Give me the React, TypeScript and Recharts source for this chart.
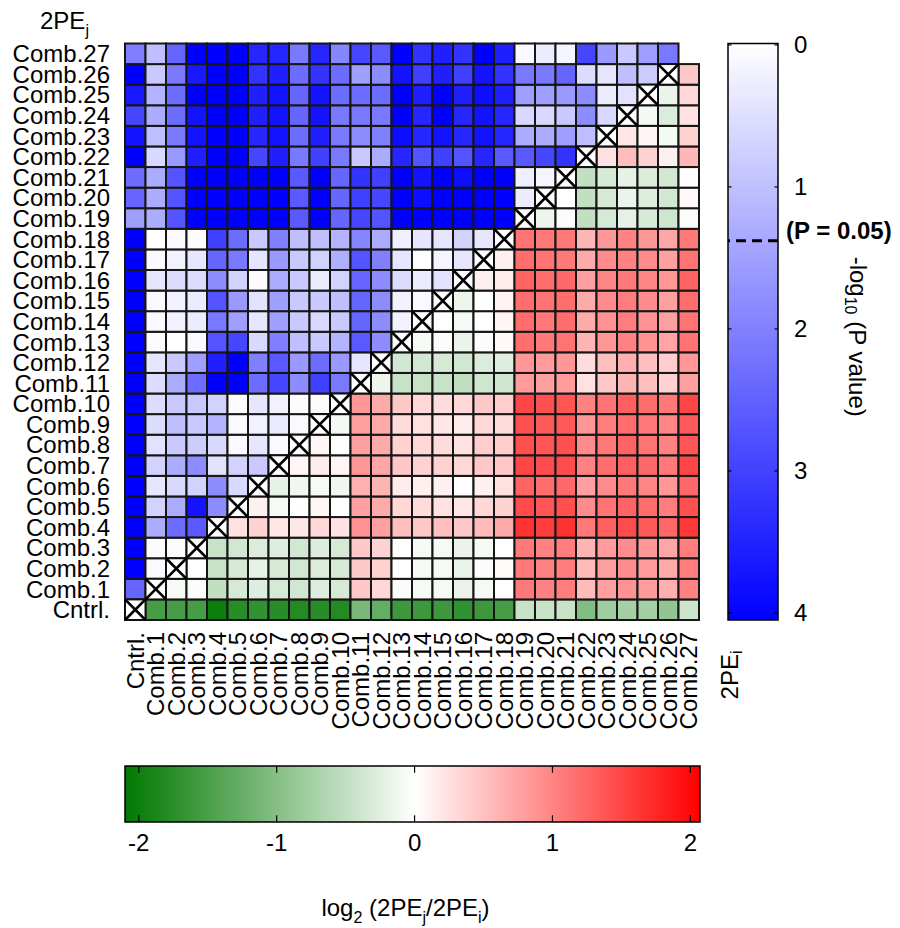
import React from 'react';
import {
  ScatterChart,
  Scatter,
  ComposedChart,
  XAxis,
  YAxis,
  ReferenceArea,
  ReferenceLine,
} from 'recharts';

const FONT = '"Liberation Sans", Arial, Helvetica, sans-serif';

const combLabels = [
  'Cntrl.', 'Comb.1', 'Comb.2', 'Comb.3', 'Comb.4', 'Comb.5', 'Comb.6', 'Comb.7', 'Comb.8', 'Comb.9',
  'Comb.10', 'Comb.11', 'Comb.12', 'Comb.13', 'Comb.14', 'Comb.15', 'Comb.16', 'Comb.17', 'Comb.18',
  'Comb.19', 'Comb.20', 'Comb.21', 'Comb.22', 'Comb.23', 'Comb.24', 'Comb.25', 'Comb.26', 'Comb.27',
];

// one row per 2PEj (Cntrl. at bottom). left of diagonal: -log10(P), right of diagonal: log2(2PEj/2PEi), null = diagonal
const rowValues: (number | null)[][] = [
  [null, -1.52, -1.52, -1.52, -2.0, -1.77, -1.7, -1.77, -1.8, -1.77, -1.8, -1.1, -1.28, -1.6, -1.6, -1.6, -1.7, -1.6, -1.52, -0.45, -0.45, -0.45, -1.03, -0.78, -0.74, -0.74, -0.9, -0.41],
  [2.4, null, -0.08, -0.03, -0.5, -0.35, -0.27, -0.35, -0.37, -0.28, -0.35, 0.45, 0.33, -0.05, -0.08, -0.08, -0.17, -0.08, 0, 1.1, 1.03, 1.07, 0.57, 0.78, 0.9, 0.82, 0.66, 1.03],
  [4, 0.1, null, 0, -0.45, -0.35, -0.2, -0.35, -0.37, -0.28, -0.35, 0.45, 0.37, 0, -0.08, -0.08, -0.17, -0.03, 0.03, 1.1, 1.03, 1.07, 0.57, 0.78, 0.95, 0.82, 0.7, 1.07],
  [4, 0.05, 0.05, null, -0.45, -0.37, -0.3, -0.27, -0.37, -0.28, -0.35, 0.45, 0.37, 0, -0.08, -0.08, -0.17, -0.08, 0, 1.1, 1.03, 1.07, 0.62, 0.82, 0.95, 0.86, 0.74, 1.07],
  [4, 1.3, 2.3, 2.6, null, 0.25, 0.37, 0.2, 0.2, 0.33, 0.25, 0.9, 0.78, 0.53, 0.45, 0.53, 0.45, 0.57, 0.7, 1.69, 1.6, 1.69, 1.1, 1.32, 1.48, 1.36, 1.24, 1.65],
  [4, 0.7, 1.3, 3.7, 1.8, null, 0.12, -0.08, -0.02, 0.08, 0, 0.78, 0.7, 0.33, 0.29, 0.25, 0.2, 0.33, 0.37, 1.48, 1.4, 1.44, 0.95, 1.15, 1.28, 1.2, 1.07, 1.44],
  [4, 0.4, 0.6, 0.7, 1.8, 0.6, null, -0.2, -0.12, -0.08, -0.12, 0.66, 0.62, 0.16, 0.12, 0.12, 0, 0.12, 0.25, 1.28, 1.2, 1.24, 0.78, 0.95, 1.1, 1.0, 0.86, 1.24],
  [4, 0.7, 1.3, 1.8, 0.45, 0.7, 0.85, null, 0.08, 0.16, 0.08, 0.86, 0.74, 0.45, 0.37, 0.37, 0.33, 0.45, 0.45, 1.52, 1.48, 1.48, 1.03, 1.2, 1.32, 1.24, 1.1, 1.52],
  [4, 0.45, 0.85, 0.8, 0.6, 0.1, 0.4, 0.1, null, 0.08, 0.02, 0.78, 0.7, 0.37, 0.33, 0.29, 0.25, 0.41, 0.41, 1.44, 1.4, 1.44, 0.95, 1.1, 1.28, 1.15, 1.03, 1.4],
  [4, 0.55, 1.0, 0.85, 1.2, 0.1, 0.2, 0.35, 0.1, null, -0.1, 0.78, 0.7, 0.29, 0.25, 0.2, 0.16, 0.33, 0.29, 1.44, 1.36, 1.36, 0.86, 1.07, 1.2, 1.1, 1.0, 1.36],
  [4, 0.55, 0.85, 0.85, 0.7, 0.05, 0.4, 0.2, 0.05, 0.05, null, 0.86, 0.7, 0.45, 0.33, 0.29, 0.33, 0.45, 0.41, 1.52, 1.44, 1.4, 1.03, 1.15, 1.32, 1.2, 1.1, 1.52],
  [4, 0.55, 1.3, 2.3, 4, 4, 2.3, 2.9, 1.8, 3.0, 2.1, null, -0.15, -0.45, -0.45, -0.45, -0.52, -0.4, -0.4, 0.82, 0.78, 0.82, 0.25, 0.45, 0.62, 0.53, 0.37, 0.78],
  [4, 0.4, 0.85, 1.5, 3.5, 4, 2.0, 2.6, 1.6, 2.3, 1.6, 0.4, null, -0.37, -0.37, -0.35, -0.37, -0.3, -0.27, 0.86, 0.82, 0.86, 0.29, 0.53, 0.66, 0.53, 0.41, 0.86],
  [4, 0.05, 0, 0.1, 2.7, 2.9, 0.6, 2.0, 1.0, 0.85, 1.2, 2.6, 1.8, null, -0.08, -0.03, -0.17, -0.03, 0.05, 1.2, 1.1, 1.15, 0.62, 0.86, 1.03, 0.9, 0.74, 1.15],
  [4, 0.1, 0.2, 0.3, 2.1, 1.5, 0.4, 1.5, 0.85, 0.6, 0.85, 2.4, 1.8, 0.2, null, 0, -0.08, 0, 0.08, 1.2, 1.1, 1.2, 0.7, 0.9, 1.07, 0.9, 0.78, 1.15],
  [4, 0.1, 0.2, 0.3, 2.7, 1.6, 0.45, 1.5, 0.85, 0.85, 1.0, 2.4, 1.8, 0.2, 0.1, null, -0.15, 0, 0.1, 1.2, 1.15, 1.2, 0.7, 0.95, 1.07, 0.95, 0.78, 1.2],
  [4, 0.4, 0.55, 0.55, 1.8, 0.7, 0.05, 1.3, 0.85, 0.3, 0.7, 2.4, 1.8, 0.55, 0.3, 0.45, null, 0.12, 0.16, 1.28, 1.2, 1.24, 0.78, 1.0, 1.1, 1.0, 0.86, 1.28],
  [4, 0.1, 0.2, 0.4, 2.4, 2.1, 0.4, 1.6, 0.85, 0.7, 1.25, 2.7, 2.0, 0.4, 0, 0.15, 0.4, null, 0.12, 1.2, 1.15, 1.1, 0.7, 0.95, 1.03, 0.95, 0.78, 1.15],
  [4, 0, 0.1, 0.05, 3.0, 2.3, 0.85, 2.0, 1.0, 1.0, 1.2, 1.9, 1.3, 0.25, 0.4, 0.4, 0.7, 0.4, null, 1.15, 1.1, 1.1, 0.6, 0.84, 1.03, 0.86, 0.74, 1.1],
  [1.5, 1.3, 2.7, 4, 4, 4, 4, 4, 2.6, 4, 2.4, 2.9, 2.7, 4, 4, 4, 4, 4, 4, null, -0.15, -0.03, -0.5, -0.35, -0.22, -0.33, -0.4, -0.03],
  [2.4, 1.3, 2.7, 4, 4, 4, 4, 4, 2.6, 4, 2.4, 3.0, 2.9, 4, 3.8, 4, 4, 4, 4, 0.3, null, 0, -0.5, -0.35, -0.17, -0.27, -0.37, 0.05],
  [2.3, 1.3, 2.7, 4, 4, 4, 4, 4, 2.6, 4, 2.4, 3.2, 3.0, 4, 3.7, 4, 3.8, 4, 4, 0.25, 0.15, null, -0.5, -0.33, -0.2, -0.3, -0.37, 0.02],
  [4, 0.6, 1.6, 3.5, 4, 4, 2.9, 3.5, 2.1, 3.0, 2.1, 0.85, 1.3, 3.4, 2.7, 3.0, 2.7, 3.4, 2.6, 2.6, 2.9, 3.2, null, 0.25, 0.55, 0.37, 0.12, 0.6],
  [3.7, 1.0, 2.1, 3.7, 4, 4, 3.4, 3.7, 2.3, 3.5, 2.1, 1.8, 2.0, 3.8, 3.4, 3.7, 3.4, 3.7, 3.4, 1.3, 1.3, 1.5, 1.0, null, 0.2, 0.08, -0.1, 0.37],
  [2.9, 1.3, 2.3, 3.7, 4, 4, 3.5, 3.7, 2.4, 3.7, 2.1, 2.1, 2.1, 4, 3.4, 4, 3.4, 3.7, 3.4, 0.6, 0.6, 0.85, 1.8, 0.6, null, -0.1, -0.3, 0.25],
  [3.6, 1.2, 2.3, 4, 4, 4, 3.5, 3.7, 2.4, 3.7, 2.3, 2.3, 2.3, 4, 3.5, 4, 3.5, 3.8, 3.5, 1.5, 1.5, 1.6, 1.8, 0.3, 0.45, null, -0.17, 0.33],
  [4, 0.85, 2.1, 3.6, 4, 4, 3.2, 3.5, 2.3, 3.2, 2.3, 1.5, 1.8, 3.7, 3.0, 3.5, 3.0, 3.7, 3.2, 2.1, 2.1, 2.4, 0.55, 0.4, 1.0, 0.8, null, 0.45],
  [2.0, 1.0, 2.4, 4, 4, 4, 3.4, 3.4, 2.1, 3.4, 1.9, 2.9, 2.6, 4, 3.2, 3.5, 3.2, 4, 3.5, 0.1, 0.3, 0.15, 2.9, 1.6, 0.85, 1.5, 2.1],
];

const pTicks = [0, 1, 2, 3, 4];
const ratioTicks = [-2, -1, 0, 1, 2];
const pThreshold = 1.38; // dashed line, (P = 0.05)

const indexTicks = combLabels.map((_, i) => i);

const cells = rowValues.flatMap((row, r) =>
  row.map((v, c) => ({ r, c, v, kind: c === r ? 'diag' : c < r ? 'p' : 'ratio' }))
);
const colorCells = cells.filter((d) => d.kind !== 'diag');
const diagCells = cells.filter((d) => d.kind === 'diag');

const blueColor = (v: number) => {
  const k = Math.round(255 * (1 - Math.min(v, 4) / 4));
  return `rgb(${k},${k},255)`;
};

const ratioColor = (v: number) => {
  const t = Math.min(Math.abs(v) / 2.1, 1);
  const k = Math.round(255 * (1 - t));
  if (v >= 0) return `rgb(255,${k},${k})`;
  return `rgb(${k},${Math.round(255 - 135 * t)},${k})`;
};

const CELL_W = 574 / 28;
const CELL_H = 576.5 / 28;

const HeatCell = (props: any) => {
  const { cx, cy, payload } = props;
  const x = cx - CELL_W / 2;
  const y = cy - CELL_H / 2;
  if (payload.kind === 'diag') {
    return (
      <g>
        <rect x={x} y={y} width={CELL_W} height={CELL_H} fill="#fff" stroke="#111" strokeWidth={2} />
        <line x1={x} y1={y} x2={x + CELL_W} y2={y + CELL_H} stroke="#000" strokeWidth={2.6} />
        <line x1={x + CELL_W} y1={y} x2={x} y2={y + CELL_H} stroke="#000" strokeWidth={2.6} />
      </g>
    );
  }
  const fill = payload.kind === 'p' ? blueColor(payload.v) : ratioColor(payload.v);
  return <rect x={x} y={y} width={CELL_W} height={CELL_H} fill={fill} stroke="#161616" strokeWidth={2} />;
};

const XTick = (props: any) => {
  const { x, y, payload } = props;
  return (
    <text
      x={x}
      y={y}
      transform={`rotate(-90 ${x} ${y})`}
      textAnchor="end"
      dominantBaseline="central"
      fontSize={24}
      fontFamily={FONT}
      fill="#000"
    >
      {combLabels[payload.value]}
    </text>
  );
};

const YTick = (props: any) => {
  const { x, y, payload } = props;
  return (
    <text x={x} y={y} textAnchor="end" dominantBaseline="central" fontSize={24} fontFamily={FONT} fill="#000">
      {combLabels[payload.value]}
    </text>
  );
};

const renderJName = (props: any) => {
  const vb = props.viewBox || { x: 5, y: 43.5 };
  return (
    <text x={vb.x + 35} y={vb.y - 15} fontSize={24} fontFamily={FONT} fill="#000">
      2PE
      <tspan dy={7} fontSize={16}>j</tspan>
    </text>
  );
};

const renderIName = (props: any) => {
  const vb = props.viewBox || { x: 125, y: 620, width: 574 };
  const cx = vb.x + vb.width + 30;
  const cy = vb.y + 55;
  return (
    <text
      x={cx}
      y={cy}
      transform={`rotate(-90 ${cx} ${cy})`}
      textAnchor="middle"
      dominantBaseline="central"
      fontSize={24}
      fontFamily={FONT}
      fill="#000"
    >
      2PE
      <tspan dy={7} fontSize={16}>i</tspan>
    </text>
  );
};

const renderPTitle = (props: any) => {
  const vb = props.viewBox || { x: 778, y: 43.5, height: 576.5 };
  const cx = vb.x + 80;
  const cy = vb.y + vb.height / 2 + 5;
  return (
    <text
      x={cx}
      y={cy}
      transform={`rotate(90 ${cx} ${cy})`}
      textAnchor="middle"
      dominantBaseline="central"
      fontSize={24}
      fontFamily={FONT}
      fill="#000"
    >
      -log
      <tspan dy={7} fontSize={16}>10</tspan>
      <tspan dy={-7}> (P value)</tspan>
    </text>
  );
};

const renderThresholdLabel = (props: any) => {
  const vb = props.viewBox || { x: 728, y: 241, width: 50 };
  return (
    <text
      x={vb.x + vb.width + 8}
      y={vb.y - 10}
      dominantBaseline="central"
      fontSize={24}
      fontWeight="bold"
      fontFamily={FONT}
      fill="#000"
    >
      (P = 0.05)
    </text>
  );
};

const renderRatioTitle = (props: any) => {
  const vb = props.viewBox || { x: 125, y: 822, width: 575 };
  return (
    <text x={vb.x + vb.width / 2 - 7} y={vb.y + 94} textAnchor="middle" fontSize={24} fontFamily={FONT} fill="#000">
      log
      <tspan dy={7} fontSize={16}>2</tspan>
      <tspan dy={-7}> (2PE</tspan>
      <tspan dy={7} fontSize={16}>j</tspan>
      <tspan dy={-7}>/2PE</tspan>
      <tspan dy={7} fontSize={16}>i</tspan>
      <tspan dy={-7}>)</tspan>
    </text>
  );
};

const tickStyle = { fontSize: 24, fill: '#000', fontFamily: FONT };

export default function App() {
  return (
    <div style={{ position: 'absolute', left: 0, top: 0, width: 900, height: 928, background: '#fff' }}>
      {/* P value colour bar */}
      <div style={{ position: 'absolute', left: 0, top: 0 }}>
        <ComposedChart
          width={900}
          height={928}
          data={pTicks.map((v) => ({ v, u: 0.5 }))}
          margin={{ top: 43.5, right: 62, bottom: 308, left: 728 }}
        >
          <defs>
            <linearGradient id="pGrad" x1="0" y1="0" x2="0" y2="1">
              <stop offset="0%" stopColor="#ffffff" />
              <stop offset="100%" stopColor="#0000ff" />
            </linearGradient>
          </defs>
          <XAxis type="number" dataKey="u" domain={[0, 1]} allowDataOverflow hide />
          <YAxis
            type="number"
            dataKey="v"
            orientation="right"
            domain={[-0.01, 4.05]}
            reversed
            ticks={pTicks}
            width={60}
            tickLine={false}
            axisLine={false}
            tickMargin={10}
            tick={tickStyle}
            allowDataOverflow
            label={renderPTitle}
          />
          <ReferenceArea x1={0} x2={1} y1={-0.01} y2={4.05} fill="url(#pGrad)" fillOpacity={1} stroke="#000" strokeWidth={1.5} />
          {pTicks.map((t) => (
            <ReferenceLine key={`l${t}`} segment={[{ x: 0, y: t }, { x: 0.07, y: t }]} stroke="#000" strokeWidth={1.2} />
          ))}
          {pTicks.map((t) => (
            <ReferenceLine key={`r${t}`} segment={[{ x: 0.93, y: t }, { x: 1, y: t }]} stroke="#000" strokeWidth={1.2} />
          ))}
          <ReferenceLine y={pThreshold} stroke="#000" strokeWidth={3} strokeDasharray="10 6" label={renderThresholdLabel} />
        </ComposedChart>
      </div>

      {/* log2 ratio colour bar */}
      <div style={{ position: 'absolute', left: 0, top: 0 }}>
        <ComposedChart
          width={900}
          height={928}
          data={ratioTicks.map((v) => ({ v, u: 0.5 }))}
          margin={{ top: 766, right: 200, bottom: 66, left: 125 }}
        >
          <defs>
            <linearGradient id="ratioGrad" x1="0" y1="0" x2="1" y2="0">
              <stop offset="0%" stopColor="rgb(0,120,0)" />
              <stop offset="50.4%" stopColor="#ffffff" />
              <stop offset="100%" stopColor="#ff0000" />
            </linearGradient>
          </defs>
          <XAxis
            type="number"
            dataKey="v"
            domain={[-2.1, 2.07]}
            ticks={ratioTicks}
            height={40}
            tickLine={false}
            axisLine={false}
            tickMargin={6}
            tick={tickStyle}
            allowDataOverflow
            label={renderRatioTitle}
          />
          <YAxis type="number" dataKey="u" domain={[0, 1]} allowDataOverflow hide />
          <ReferenceArea x1={-2.1} x2={2.07} y1={0} y2={1} fill="url(#ratioGrad)" fillOpacity={1} stroke="#000" strokeWidth={1.5} />
          {ratioTicks.map((t) => (
            <ReferenceLine key={`b${t}`} segment={[{ x: t, y: 0 }, { x: t, y: 0.12 }]} stroke="#000" strokeWidth={1.2} />
          ))}
          {ratioTicks.map((t) => (
            <ReferenceLine key={`t${t}`} segment={[{ x: t, y: 0.88 }, { x: t, y: 1 }]} stroke="#000" strokeWidth={1.2} />
          ))}
        </ComposedChart>
      </div>

      {/* heat map */}
      <div style={{ position: 'absolute', left: 0, top: 0 }}>
        <ScatterChart width={900} height={928} margin={{ top: 43.5, right: 201, bottom: 198, left: 5 }}>
          <XAxis
            type="number"
            dataKey="c"
            domain={[-0.5, 27.5]}
            ticks={indexTicks}
            interval={0}
            height={110}
            tickLine={false}
            axisLine={false}
            tickMargin={6}
            tick={<XTick />}
            label={renderIName}
          />
          <YAxis
            type="number"
            dataKey="r"
            domain={[-0.5, 27.5]}
            ticks={indexTicks}
            interval={0}
            width={120}
            tickLine={false}
            axisLine={false}
            tickMargin={9}
            tick={<YTick />}
            label={renderJName}
          />
          <Scatter data={colorCells} shape={HeatCell} isAnimationActive={false} />
          <Scatter data={diagCells} shape={HeatCell} isAnimationActive={false} />
        </ScatterChart>
      </div>
    </div>
  );
}
